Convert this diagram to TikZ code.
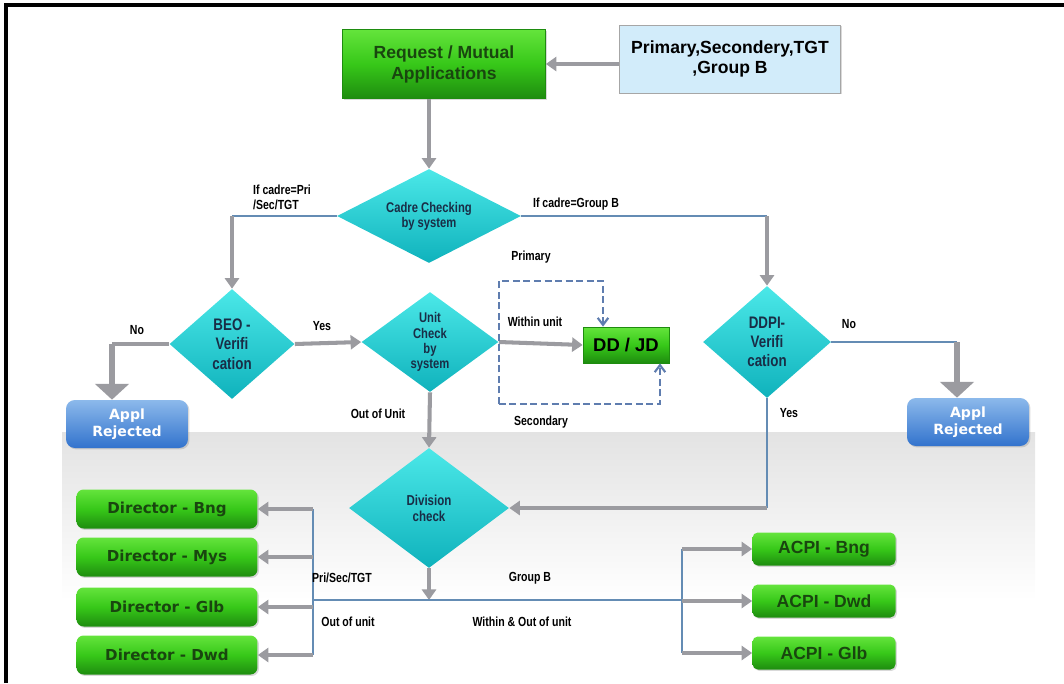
\documentclass[tikz,border=0pt]{standalone}
\usepackage{fontspec}
\setmainfont{Liberation Sans}
\newfontfamily\condfont[FakeStretch=0.8]{Liberation Sans}
\newfontfamily\dvfont{DejaVu Sans}
\usetikzlibrary{shapes.geometric,arrows.meta,shadows}

\definecolor{grlight}{RGB}{100,228,60}
\definecolor{grmid}{RGB}{55,200,25}
\definecolor{grdark}{RGB}{30,140,15}
\definecolor{grtext}{RGB}{25,70,15}
\definecolor{cylight}{RGB}{75,232,232}
\definecolor{cydark}{RGB}{15,178,188}
\definecolor{cytext}{RGB}{25,45,70}
\definecolor{skyfill}{RGB}{210,236,250}
\definecolor{rejtop}{RGB}{140,185,235}
\definecolor{rejbot}{RGB}{50,115,205}
\definecolor{pipegray}{RGB}{155,155,160}
\definecolor{pipeblue}{RGB}{100,140,180}
\definecolor{loopblue}{RGB}{95,125,175}

\begin{document}
\begin{tikzpicture}[x=0.02cm, y=-0.02cm,
	gbox/.style={rectangle, top color=grlight, bottom color=grdark, middle color=grmid,
		draw=grdark, text=grtext, align=center, inner sep=1pt,
		drop shadow={opacity=0.3, shadow xshift=0.8pt, shadow yshift=-0.8pt}},
	appbox/.style={gbox, minimum width=4.06cm, minimum height=1.38cm,
		font=\bfseries\fontsize{10}{12}\selectfont},
	cadrebox/.style={rectangle, fill=skyfill, draw=gray!70, align=center,
		minimum width=4.42cm, minimum height=1.36cm,
		font=\bfseries\fontsize{10}{11.5}\selectfont,
		drop shadow={opacity=0.3, shadow xshift=0.8pt, shadow yshift=-0.8pt}},
	ddbox/.style={gbox, text=black, minimum width=1.72cm, minimum height=0.72cm,
		font=\bfseries\fontsize{10.5}{12}\selectfont},
	dirbox/.style={gbox, draw=none, rounded corners=4pt, minimum width=3.62cm, minimum height=0.78cm,
		font=\dvfont\bfseries\fontsize{8.6}{10}\selectfont},
	acpibox/.style={gbox, draw=none, rounded corners=3pt, minimum width=2.86cm, minimum height=0.66cm,
		font=\bfseries\fontsize{10}{11}\selectfont},
	rejbox/.style={rectangle, rounded corners=5pt, top color=rejtop, bottom color=rejbot,
		text=white, align=center, minimum width=2.44cm, minimum height=0.96cm,
		font=\dvfont\bfseries\fontsize{8}{10}\selectfont,
		drop shadow={opacity=0.3, shadow xshift=0.8pt, shadow yshift=-0.8pt}},
	check/.style={diamond, top color=cylight, bottom color=cydark, text=cytext,
		align=center, inner sep=0pt, font=\condfont\bfseries\fontsize{8}{8.6}\selectfont},
	checkbig/.style={check, font=\condfont\bfseries\fontsize{9.5}{11}\selectfont},
	lbl/.style={inner sep=0pt, font=\condfont\bfseries\fontsize{7.5}{8.5}\selectfont},
	grayline/.style={draw=pipegray, line width=2.3pt},
	grayarrow/.style={grayline, -{Triangle[width=8pt,length=6pt]}},
	bigarrow/.style={draw=pipegray, line width=3pt, -{Triangle[width=19pt,length=9pt]}},
	bluepipe/.style={draw=pipeblue, line width=1.1pt},
	dashloop/.style={draw=loopblue, line width=1.2pt, dash pattern=on 4pt off 2pt,
		-{Straight Barb[width=6pt,length=4pt]}}]

	\useasboundingbox (0,0) rectangle (1064,683);

	% --- background band and frame ---
	\shade[top color=gray!22, bottom color=white] (62,432) rectangle (1035,600);
	\draw[line width=1.8pt] (6,683) -- (6,5) -- (1064,5);

	% --- top row ---
	\node[appbox] (request) at (444,64) {Request / Mutual\\Applications};
	\node[cadrebox] (cadres) at (730,59) {Primary,Secondery,TGT\\,Group B};

	% --- decisions ---
	\node[check, aspect=2, minimum width=3.68cm, minimum height=1.88cm] (cadre) at (429,216) {Cadre Checking\\by system};
	\node[checkbig, minimum width=2.5cm, minimum height=2.2cm] (beo) at (232,344) {BEO -\\Verifi\\cation};
	\node[check, minimum width=2.74cm, minimum height=2.0cm] (unit) at (430,342) {Unit\\Check\\by\\system};
	\node[checkbig, minimum width=2.56cm, minimum height=2.24cm] (ddpi) at (767,342) {DDPI-\\Verifi\\cation};
	\node[check, minimum width=3.2cm, minimum height=2.4cm, font=\condfont\bfseries\fontsize{8.2}{9.2}\selectfont] (division) at (429,508) {Division\\check};

	% --- end boxes ---
	\node[ddbox] (ddjd) at (626,345) {DD / JD};
	\node[rejbox] (rejL) at (127,424) {Appl\\Rejected};
	\node[rejbox] (rejR) at (968,422) {Appl\\Rejected};
	\foreach \nm/\yy [count=\i] in {Bng/509, Mys/557, Glb/607, Dwd/655}
		\node[dirbox] (dir\i) at (167,\yy) {Director - \nm};
	\foreach \nm/\yy [count=\i] in {Bng/549, Dwd/601, Glb/653}
		\node[acpibox] (acpi\i) at (824,\yy) {ACPI - \nm};

	% --- connectors, top part ---
	\draw[grayarrow] (cadres.west |- request.east) -- (request.east);
	\draw[grayarrow] (request.south -| cadre.north) -- (cadre.north);
	\coordinate (cl) at (beo.north |- cadre.west);
	\coordinate (cr) at (ddpi.north |- cadre.east);
	\draw[bluepipe] (cadre.west) -- (cl);
	\draw[grayarrow] (cl) -- (beo.north);
	\draw[bluepipe] (cadre.east) -- (cr);
	\draw[grayarrow] (cr) -- (ddpi.north);

	% BEO branch
	\coordinate (bl) at (112,344);
	\draw[grayline] (beo.west) -- (bl);
	\draw[bigarrow] (bl) -- (bl |- rejL.north);
	\draw[grayarrow] (beo.east) -- (unit.west);

	% unit check branch
	\draw[grayarrow] (unit.east) -- (ddjd.west);
	\coordinate (dtop) at (unit.east |- 0,281);
	\coordinate (dbot) at (unit.east |- 0,404);
	\draw[dashloop] (dbot) -- (dtop) -| ([xshift=-0.46cm]ddjd.north);
	\draw[dashloop] (dbot) -| ([xshift=0.68cm]ddjd.south);
	\draw[grayarrow] (unit.south) -- (division.north);

	% DDPI branch
	\coordinate (dr) at (957,342);
	\draw[bluepipe] (ddpi.east) -- (dr);
	\draw[bigarrow] (dr) -- (dr |- rejR.north);
	\coordinate (db) at (ddpi.south |- division.east);
	\draw[bluepipe] (ddpi.south) -- (db);
	\draw[grayarrow] (db) -- (division.east);

	% --- connectors, bottom bus ---
	\coordinate (busL) at (313,600);
	\coordinate (busR) at (682,600);
	\draw[grayarrow] (division.south) -- (division.south |- busL);
	\draw[bluepipe] (busL) -- (busR);
	\draw[bluepipe] (dir1.east -| busL) -- (dir4.east -| busL);
	\draw[bluepipe] (acpi1.west -| busR) -- (acpi3.west -| busR);
	\foreach \i in {1,...,4}
		\draw[grayarrow] (dir\i.east -| busL) -- (dir\i.east);
	\foreach \i in {1,2,3}
		\draw[grayarrow] (acpi\i.west -| busR) -- (acpi\i.west);

	% --- labels ---
	\node[lbl, align=left] (lcadl) at (282,197) {If cadre=Pri\\/Sec/TGT};
	\node[lbl] (lcadr) at (576,204) {If cadre=Group B};
	\node[lbl] (lprim) at (531,257) {Primary};
	\node[lbl] (lno1) at (137,330) {No};
	\node[lbl] (lyes1) at (322,326) {Yes};
	\node[lbl] (lwithin) at (535,322) {Within unit};
	\node[lbl] (lsec) at (541,422) {Secondary};
	\node[lbl] (lout) at (378,414) {Out of Unit};
	\node[lbl] (lno2) at (849,324) {No};
	\node[lbl] (lyes2) at (789,413) {Yes};
	\node[lbl] (lpri) at (342,578) {Pri/Sec/TGT};
	\node[lbl] (lgrb) at (530,578) {Group B};
	\node[lbl] (loutu) at (348,622) {Out of unit};
	\node[lbl] (lwo) at (522,622) {Within \& Out of unit};

\end{tikzpicture}
\end{document}
